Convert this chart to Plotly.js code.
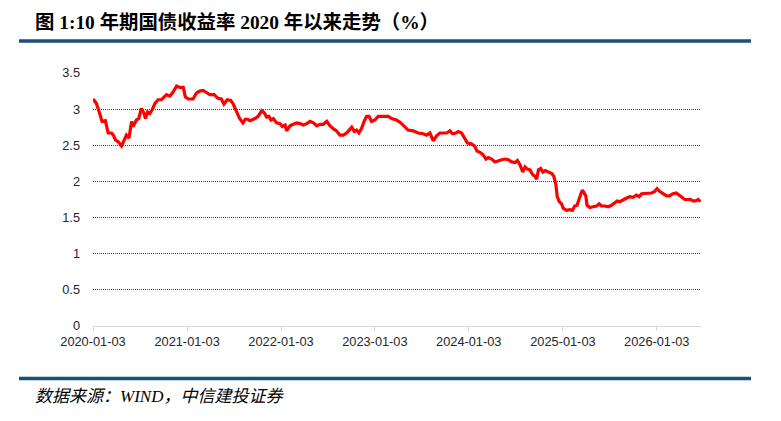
<!DOCTYPE html>
<html>
<head>
<meta charset="utf-8">
<script src="https://cdn.plot.ly/plotly-3.0.1.min.js"></script>
<style>html,body{margin:0;padding:0;background:#fff;}#chart{width:781px;height:421px;}</style>
</head>
<body>
<div id="chart"></div>
<script>
const chartTitle = "图 1:10 年期国债收益率 2020 年以来走势（%）";
const sourceText = "数据来源：WIND，中信建投证券";
const seriesName = "10年期国债收益率";

const dates = [
"2020-01-03","2020-01-16","2020-01-29","2020-02-07","2020-02-20","2020-03-02","2020-03-15","2020-03-22","2020-03-31","2020-04-10",
"2020-04-23","2020-05-03","2020-05-12","2020-05-22","2020-06-01","2020-06-07","2020-06-20","2020-06-29","2020-07-09","2020-07-20",
"2020-07-25","2020-08-02","2020-08-11","2020-08-20","2020-08-31","2020-09-12","2020-09-25","2020-10-15","2020-10-28","2020-11-10",
"2020-11-23","2020-12-06","2020-12-19","2020-12-27",
"2021-01-07","2021-01-26","2021-02-08","2021-02-21","2021-03-06","2021-03-19","2021-04-01","2021-04-18","2021-05-03","2021-05-16",
"2021-05-26","2021-06-08","2021-06-21","2021-06-30","2021-07-13","2021-07-26","2021-08-08","2021-08-17","2021-08-27","2021-09-04",
"2021-09-24","2021-10-06","2021-10-20","2021-10-30","2021-11-08","2021-11-17","2021-11-25","2021-12-04","2021-12-17","2021-12-30",
"2022-01-08","2022-01-19","2022-01-25","2022-02-07","2022-02-20","2022-03-05","2022-03-18","2022-03-31","2022-04-13","2022-04-26",
"2022-05-09","2022-05-22","2022-06-04","2022-06-16","2022-06-30","2022-07-12","2022-07-25","2022-08-07","2022-08-20","2022-09-02",
"2022-09-15","2022-09-28","2022-10-05","2022-10-15","2022-10-24","2022-11-02","2022-11-12","2022-11-22","2022-12-02","2022-12-11",
"2022-12-21",
"2023-01-03","2023-01-16","2023-01-29","2023-02-11","2023-02-24","2023-03-09","2023-03-28","2023-04-14","2023-04-30","2023-05-12",
"2023-06-01","2023-06-20","2023-07-10","2023-07-23","2023-08-05","2023-08-18","2023-08-31","2023-09-13","2023-09-26","2023-10-09",
"2023-10-22","2023-11-01","2023-11-14","2023-11-23","2023-12-06","2023-12-19","2023-12-29",
"2024-01-13","2024-01-26","2024-02-04","2024-02-17","2024-02-27","2024-03-10","2024-03-19","2024-04-01","2024-04-14","2024-04-27",
"2024-05-10","2024-05-23","2024-06-05","2024-06-18","2024-07-01","2024-07-10","2024-07-20","2024-07-31","2024-08-09","2024-08-18",
"2024-08-28","2024-09-08","2024-09-17","2024-09-23","2024-09-30","2024-10-09","2024-10-17","2024-10-26","2024-11-08","2024-11-21",
"2024-11-29","2024-12-07","2024-12-12","2024-12-20","2024-12-29",
"2025-01-04","2025-01-17","2025-01-30","2025-02-09","2025-02-18","2025-02-27","2025-03-07","2025-03-14","2025-03-20","2025-03-26",
"2025-04-02","2025-04-07","2025-04-18","2025-05-01","2025-05-14","2025-05-24","2025-06-02","2025-06-15","2025-06-28","2025-07-11",
"2025-07-24","2025-08-02","2025-08-12","2025-08-25","2025-09-08","2025-09-20","2025-10-03","2025-10-16","2025-10-27","2025-11-05",
"2025-11-17","2025-11-30","2025-12-14","2025-12-26",
"2026-01-04","2026-01-15","2026-01-27","2026-02-10","2026-02-22","2026-03-07","2026-03-20","2026-03-31","2026-04-09","2026-04-22",
"2026-05-05","2026-05-14","2026-05-24","2026-06-04","2026-06-13","2026-06-22"
];

const yields = [
3.14,3.08,2.94,2.83,2.84,2.67,2.67,2.64,2.57,2.55,
2.49,2.57,2.64,2.60,2.83,2.76,2.85,2.87,3.01,2.94,
2.87,2.96,2.94,2.99,3.08,3.13,3.13,3.20,3.18,3.24,
3.32,3.30,3.30,3.17,
3.14,3.14,3.22,3.25,3.26,3.23,3.20,3.20,3.15,3.14,
3.07,3.13,3.12,3.08,2.96,2.87,2.81,2.86,2.86,2.84,
2.87,2.90,2.98,2.95,2.89,2.90,2.85,2.87,2.81,2.80,
2.76,2.78,2.70,2.77,2.79,2.81,2.80,2.78,2.80,2.83,
2.81,2.77,2.79,2.79,2.83,2.77,2.73,2.70,2.64,2.64,
2.67,2.72,2.75,2.69,2.71,2.67,2.73,2.83,2.90,2.90,
2.83,
2.85,2.90,2.90,2.90,2.90,2.87,2.85,2.81,2.76,2.71,
2.70,2.67,2.66,2.64,2.67,2.56,2.63,2.67,2.67,2.67,
2.70,2.66,2.67,2.69,2.67,2.60,2.53,
2.52,2.49,2.42,2.40,2.37,2.31,2.33,2.31,2.27,2.29,
2.30,2.31,2.30,2.27,2.26,2.29,2.23,2.13,2.20,2.17,
2.16,2.09,2.07,2.03,2.16,2.18,2.13,2.15,2.13,2.11,
2.07,1.95,1.79,1.72,1.69,
1.63,1.60,1.61,1.60,1.66,1.67,1.77,1.83,1.88,1.84,
1.80,1.67,1.64,1.65,1.66,1.69,1.66,1.66,1.65,1.67,
1.70,1.73,1.72,1.75,1.77,1.79,1.78,1.81,1.79,1.83,
1.83,1.84,1.84,1.86,
1.90,1.86,1.83,1.80,1.80,1.83,1.84,1.81,1.79,1.75,
1.75,1.75,1.73,1.73,1.75,1.72
];

const xTickVals = ["2020-01-03","2021-01-03","2022-01-03","2023-01-03","2024-01-03","2025-01-03","2026-01-03"];
const xTickText = ["2020-01-03","2021-01-03","2022-01-03","2023-01-03","2024-01-03","2025-01-03","2026-01-03"];
const yTickVals = [0,0.5,1,1.5,2,2.5,3,3.5];
const yTickText = ["0","0.5","1","1.5","2","2.5","3","3.5"];

const trace = {
  x: dates, y: yields, type: "scatter", mode: "lines", name: seriesName,
  line: {color: "#FF0000", width: 3.2}, hoverinfo: "x+y"
};

const ruleColor = "#1B4F7E";
const layout = {
  width: 781, height: 421,
  margin: {l: 93, r: 80, t: 73, b: 95, pad: 0},
  paper_bgcolor: "#ffffff", plot_bgcolor: "#ffffff",
  showlegend: false,
  font: {family: "Liberation Sans, Arial, sans-serif", size: 12, color: "#262626"},
  xaxis: {
    type: "date", range: ["2020-01-03", "2026-06-24"],
    tickmode: "array", tickvals: xTickVals, ticktext: xTickText,
    showgrid: false, showline: true, linecolor: "#d9d9d9", linewidth: 1,
    ticks: "outside", ticklen: 4, tickcolor: "#d9d9d9", tickwidth: 1,
    tickfont: {family: "Liberation Sans, Arial, sans-serif", size: 12.8, color: "#262626"},
    zeroline: false, fixedrange: true
  },
  yaxis: {
    range: [0, 3.5], tickmode: "array", tickvals: yTickVals, ticktext: yTickText,
    showgrid: true, gridcolor: "#404040", griddash: "1px,1px", gridwidth: 1,
    zeroline: true, zerolinecolor: "#d9d9d9", zerolinewidth: 1,
    showline: false, ticks: "", ticklabelstandoff: 12,
    tickfont: {family: "Liberation Sans, Arial, sans-serif", size: 12.8, color: "#262626"},
    fixedrange: true
  },
  shapes: [
    {type: "line", xref: "paper", yref: "paper", x0: -0.1217, x1: 1.0822, y0: 1.1265, y1: 1.1265,
     line: {color: ruleColor, width: 3.5}},
    {type: "line", xref: "paper", yref: "paper", x0: -0.1217, x1: 1.0822, y0: -0.2075, y1: -0.2075,
     line: {color: ruleColor, width: 3.5}}
  ],
  annotations: [
    {text: "<b>" + chartTitle + "</b>", xref: "paper", yref: "paper", x: -0.0987, y: 1.2016,
     xanchor: "left", yanchor: "middle", showarrow: false,
     font: {family: "Liberation Serif, Noto Sans CJK SC, serif", size: 19.4, color: "#000000"}},
    {text: "<i>" + sourceText + "</i>", xref: "paper", yref: "paper", x: -0.0987, y: -0.2806,
     xanchor: "left", yanchor: "middle", showarrow: false,
     font: {family: "Liberation Serif, Noto Sans CJK SC, serif", size: 17, color: "#000000"}}
  ]
};

Plotly.newPlot("chart", [trace], layout, {displayModeBar: false, staticPlot: true});
</script>
</body>
</html>
